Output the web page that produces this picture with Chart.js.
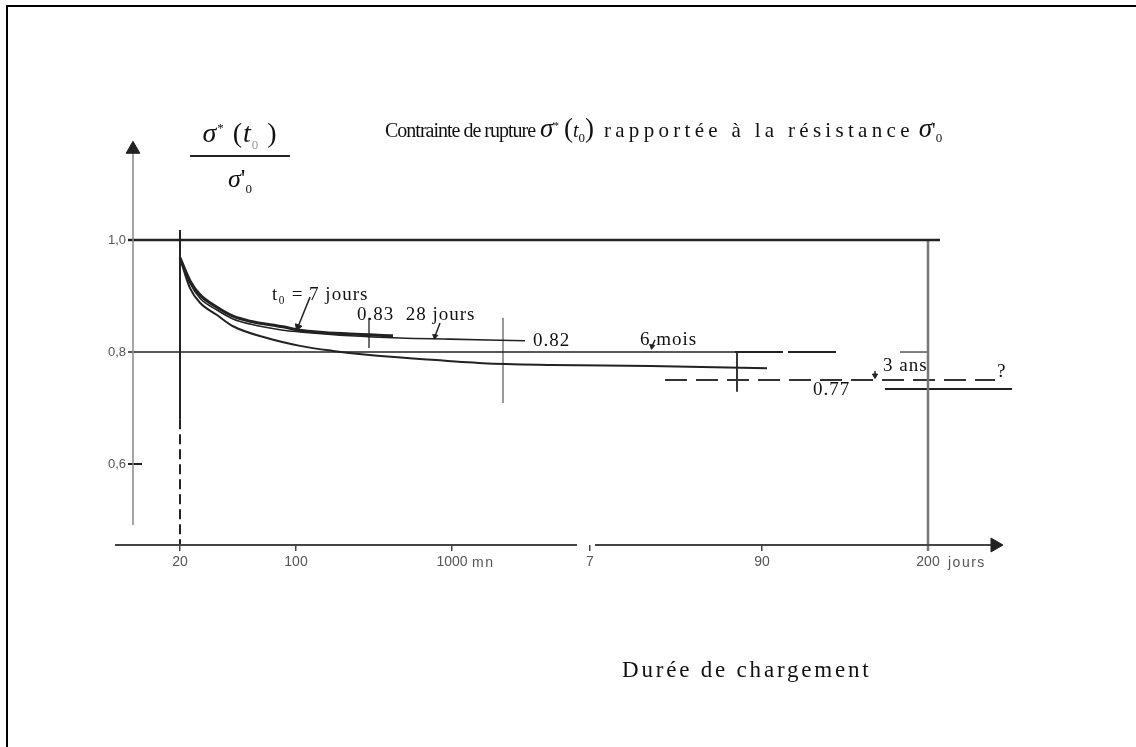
<!DOCTYPE html>
<html>
<head>
<meta charset="utf-8">
<script src="https://cdn.jsdelivr.net/npm/chart.js@4.4.0/dist/chart.umd.min.js"></script>
<style>
  html, body { margin: 0; padding: 0; background: #fff; }
  body { width: 1136px; height: 747px; overflow: hidden; position: relative; font-family: "Liberation Serif", serif; }
  #frame { position: absolute; left: 6px; top: 5px; width: 1200px; height: 800px; border-top: 2px solid #000; border-left: 2px solid #000; }
  #chart { position: absolute; left: 0; top: 0; }
  .sig { font-style: italic; }
  #title { position: absolute; left: 385px; top: 113px; font-size: 20px; color: #111; white-space: nowrap; }
  #title .a { letter-spacing: -1px; }
  #title .b { font-size: 21px; letter-spacing: 4.3px; }
  #title .sig { font-size: 27px; }
  #title sup { font-size: 11px; }
  #title sub { font-size: 13px; }
  #title .par { font-size: 27px; }
  #ylab { position: absolute; left: 190px; top: 117px; width: 100px; text-align: center; color: #111; }
  #ylab .num { font-size: 28px; border-bottom: 2px solid #222; padding-bottom: 2px; white-space: nowrap; letter-spacing: 1px; }
  #ylab .den { font-size: 26px; margin-top: 7px; white-space: nowrap; }
  #ylab sub { font-size: 13px; }
  #ylab sup { font-size: 13px; }
  #xlab { position: absolute; left: 622px; top: 657px; font-size: 23px; letter-spacing: 2.8px; color: #111; white-space: nowrap; }
</style>
</head>
<body>
<div id="frame"></div>
<canvas id="chart" width="1136" height="747"></canvas>
<div id="title"><span class="a">Contrainte de rupture</span> <span class="sig">σ</span><sup>*</sup> <span class="par">(</span><i>t</i><sub>0</sub><span class="par">)</span>&nbsp; <span class="b">rapportée à la résistance</span> <span class="sig">σ</span>'<sub>0</sub></div>
<div id="ylab">
  <div class="num"><span class="sig">σ</span><sup>*</sup> (<i>t</i><sub style="color:#999">0</sub> )</div>
  <div class="den"><span class="sig">σ</span>'<sub>0</sub></div>
</div>
<div id="xlab">Durée de chargement</div>
<script>
// axis range, in positions along the drawn (schematic) time axis
const xMin = -0.47, xMax = 8.2;
const yMin = 0.4554, yMax = 1.1786;

// time axis graduations
const tickPos = [0, 1.16, 2.72, 4.1, 5.82, 7.48];
const tickLabels = ['20', '100', '1000', '7', '90', '200'];
const unitLabels = ['mn', 'jours'];
const unitX = [2.92, 7.68];
const unitY = [0.423, 0.423];

// ratio axis graduations
const yTicks = [0.6, 0.8, 1.0];
const yTickLabels = ['0,6', '0,8', '1,0'];

// curves: loading age t0 = 7 jours, 28 jours, 6 mois
const curve7jX = [0, 0.1, 0.2, 0.37, 0.53, 0.7, 1.03, 1.2, 1.7, 2.13];
const curve7jY = [0.968, 0.927, 0.902, 0.880, 0.864, 0.855, 0.845, 0.839, 0.832, 0.829];
const curve28jX = [0, 0.1, 0.2, 0.37, 0.53, 0.7, 1.03, 1.2, 1.7, 2.2, 2.7, 3.45];
const curve28jY = [0.968, 0.923, 0.896, 0.875, 0.859, 0.850, 0.839, 0.836, 0.829, 0.825, 0.823, 0.820];
const curve6mX = [0, 0.1, 0.2, 0.37, 0.53, 0.87, 1.2, 1.53, 1.87, 2.37, 3.03, 3.7, 4.7, 5.87];
const curve6mY = [0.968, 0.914, 0.888, 0.866, 0.846, 0.825, 0.811, 0.802, 0.795, 0.788, 0.780, 0.777, 0.775, 0.771];

// 3 ans (dashed, extrapolated)
const curve3aX = [4.85, 8.15];
const curve3aY = [0.75, 0.75];

// annotations
const noteLabels = ['t₀ = 7 jours', '0.83  28 jours', '0.82', '6 mois', '0.77', '3 ans', '?'];
const noteX = [0.92, 1.77, 3.53, 4.6, 6.33, 7.03, 8.17];
const noteY = [0.902, 0.866, 0.820, 0.821, 0.732, 0.775, 0.764];

const ink = '#222';

function pts(xs, ys) {
  return xs.map((x, i) => ({ x: x, y: ys[i] }));
}

function seg(xs, ys, opts) {
  return Object.assign({
    data: pts(xs, ys),
    borderColor: ink,
    borderWidth: 1.5,
    pointRadius: 0,
    fill: false,
    clip: false,
    tension: 0
  }, opts || {});
}

function arrow(xs, ys, rot, size, opts) {
  return seg(xs, ys, Object.assign({
    pointRadius: [0, size],
    pointStyle: 'triangle',
    pointRotation: [0, rot],
    pointBackgroundColor: ink,
    pointBorderColor: ink,
    pointBorderWidth: 1
  }, opts || {}));
}

const datasets = [
  // axes
  arrow([-0.47, -0.47], [0.491, 1.162], 0, 8, { borderColor: '#888', borderWidth: 1.5 }),
  seg([-0.65, 3.97], [0.4554, 0.4554], { borderColor: '#444', borderWidth: 2 }),
  arrow([4.15, 8.15], [0.4554, 0.4554], 90, 8, { borderColor: '#444', borderWidth: 2 }),
  seg([-0.52, -0.38], [0.6, 0.6], { borderWidth: 2 }),
  // reference levels
  seg([-0.52, 7.6], [1.0, 1.0], { borderWidth: 2.5 }),
  seg([-0.52, 5.55], [0.8, 0.8], { borderWidth: 1.3 }),
  seg([5.55, 6.03], [0.8, 0.8], { borderWidth: 2 }),
  seg([6.08, 6.56], [0.8, 0.8], { borderWidth: 2 }),
  // origin and 200 days verticals
  seg([0, 0], [1.018, 0.68], { borderWidth: 2 }),
  seg([0, 0], [0.68, 0.4554], { borderWidth: 2, borderDash: [10, 5] }),
  seg([7.48, 7.48], [1.0, 0.445], { borderColor: '#777', borderWidth: 2.5 }),
  // curves
  seg(curve7jX, curve7jY, { borderWidth: 3, cubicInterpolationMode: 'monotone' }),
  seg(curve28jX, curve28jY, { borderWidth: 1.6, cubicInterpolationMode: 'monotone' }),
  seg(curve6mX, curve6mY, { borderWidth: 2, cubicInterpolationMode: 'monotone' }),
  seg(curve3aX, curve3aY, { borderWidth: 2, borderDash: [22, 9], borderColor: '#333' }),
  seg([7.05, 8.32], [0.734, 0.734], { borderWidth: 1.8 }),
  seg([7.2, 7.47], [0.8, 0.8], { borderWidth: 1.5, borderColor: '#555' }),
  // vertical markers
  seg([1.89, 1.89], [0.861, 0.807], { borderWidth: 1.3 }),
  seg([3.23, 3.23], [0.861, 0.709], { borderWidth: 1.3, borderColor: '#666' }),
  seg([5.57, 5.57], [0.8, 0.729], { borderWidth: 1.8 }),
  // leader arrows
  arrow([1.3, 1.18], [0.898, 0.845], 201, 4),
  arrow([2.6, 2.55], [0.852, 0.828], 190, 3),
  arrow([4.75, 4.72], [0.822, 0.81], 190, 3),
  arrow([6.95, 6.95], [0.766, 0.758], 180, 3)
];

// text annotations placed through the chart scales
const notesPlugin = {
  id: 'notes',
  afterDatasetsDraw(chart) {
    const c = chart.ctx, sx = chart.scales.x, sy = chart.scales.y;
    c.save();
    c.fillStyle = '#111';
    c.textBaseline = 'middle';
    c.font = '19px "Liberation Serif", serif';
    c.letterSpacing = '1px';
    noteLabels.forEach((t, i) => {
      c.fillText(t, sx.getPixelForValue(noteX[i]), sy.getPixelForValue(noteY[i]));
    });
    c.font = '14px "Liberation Sans", sans-serif';
    c.fillStyle = '#555';
    c.letterSpacing = '1.5px';
    unitLabels.forEach((t, i) => {
      c.fillText(t, sx.getPixelForValue(unitX[i]), sy.getPixelForValue(unitY[i]));
    });
    c.restore();
  }
};

new Chart(document.getElementById('chart'), {
  type: 'line',
  data: { datasets: datasets },
  plugins: [notesPlugin],
  options: {
    responsive: false,
    animation: false,
    events: [],
    layout: { padding: { left: 0, top: 140, right: 136, bottom: 0 } },
    plugins: { legend: { display: false }, tooltip: { enabled: false } },
    scales: {
      x: {
        type: 'linear',
        min: xMin,
        max: xMax,
        afterFit: s => { s.height = 747 - 545; },
        afterBuildTicks: s => { s.ticks = tickPos.map(v => ({ value: v })); },
        border: { display: false },
        grid: { drawOnChartArea: false, drawTicks: true, tickLength: 6, color: '#444', lineWidth: 1.5 },
        ticks: {
          autoSkip: false,
          maxRotation: 0,
          padding: 3,
          color: '#555',
          font: { family: '"Liberation Sans", sans-serif', size: 14 },
          callback: (v, i) => tickLabels[i]
        }
      },
      y: {
        type: 'linear',
        min: yMin,
        max: yMax,
        afterFit: s => { s.width = 133; },
        afterBuildTicks: s => { s.ticks = yTicks.map(v => ({ value: v })); },
        border: { display: false },
        grid: { display: false, drawTicks: false },
        ticks: {
          autoSkip: false,
          padding: 7,
          color: '#555',
          font: { family: '"Liberation Sans", sans-serif', size: 13 },
          callback: (v, i) => yTickLabels[i]
        }
      }
    }
  }
});
</script>
</body>
</html>
